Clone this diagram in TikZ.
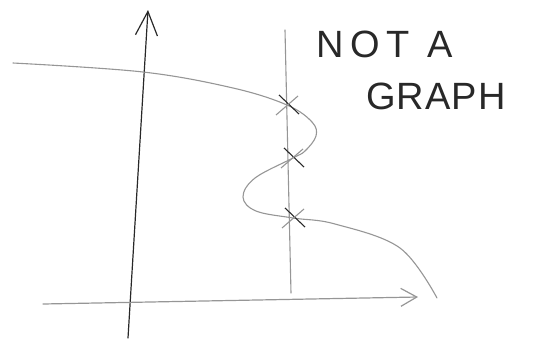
\documentclass[tikz,border=0pt]{standalone}
\usepackage{fontspec}
\setmainfont{Liberation Sans}
\usetikzlibrary{arrows.meta,positioning}
\definecolor{PencilDark}{RGB}{40,40,40}
\definecolor{PencilLight}{RGB}{150,150,150}

\begin{document}
\begin{tikzpicture}[x=1pt,y=-1pt,
  axis/.style={PencilDark,line width=1.2pt,line cap=round,-{Straight Barb[length=24pt,width=22pt]}},
  pencil/.style={PencilLight,line width=1.1pt,line cap=round},
  crossmark/.style={PencilDark,line width=1.1pt},
  label/.style={font=\fontsize{38}{40}\selectfont,text=PencilDark,inner sep=0pt,anchor=north west},
]
\useasboundingbox (0,0) rectangle (541,343);
% axes
\coordinate (yfoot) at (128,338);
\coordinate (ytip) at (148,10);
\coordinate (xfoot) at (43,304);
\coordinate (xtip) at (418,297);
\draw[axis] (yfoot) -- (ytip);
\draw[axis,PencilLight,-{Straight Barb[length=16pt,width=18pt]}] (xfoot) -- (xtip);
% vertical test line
\coordinate (vtop) at (285,30);
\coordinate (vbot) at (291,293);
\draw[pencil] (vtop) -- (vbot);
% the curve
\draw[pencil] plot[smooth,tension=0.6] coordinates {(13,63) (143,72) (233,88) (287,105) (312,122) (316,136) (305,151) (293,158) (255,178) (243,197) (256,211) (293,218) (335,224) (400,248) (437,298)};
% crossings
\foreach \cx/\cy in {288/105,293/158,294/218}
  {\draw[crossmark] (\cx-9,\cy-10) -- (\cx+11,\cy+9);
   \draw[crossmark,PencilLight] (\cx-12,\cy+10) -- (\cx+10,\cy-9);}
\node[label,font=\fontsize{38}{40}\selectfont\addfontfeature{LetterSpace=18}] (nota) at (316,31) {NOT A};
\node[label,font=\fontsize{38}{40}\selectfont\addfontfeature{LetterSpace=3}] (graph) at (366,83) {GRAPH};
\end{tikzpicture}
\end{document}
